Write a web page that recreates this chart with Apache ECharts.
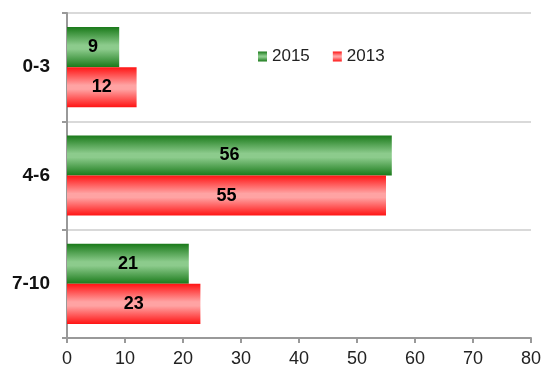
<!DOCTYPE html>
<html>
<head>
<meta charset="utf-8">
<script src="https://cdn.jsdelivr.net/npm/echarts@6/dist/echarts.min.js"></script>
<style>
  html, body { margin: 0; padding: 0; background: #fff; }
  #chart { width: 544px; height: 370px; }
</style>
</head>
<body>
<div id="chart"></div>
<script>
// Age groups and counts per year
const categories = ['0-3', '4-6', '7-10'];
const values2015 = [9, 56, 21];
const values2013 = [12, 55, 23];
const xTicks = { min: 0, max: 80, interval: 10 };

function bandGradient(edge, mid) {
  return new echarts.graphic.LinearGradient(0, 0, 0, 1, [
    { offset: 0, color: edge },
    { offset: 0.45, color: mid },
    { offset: 0.55, color: mid },
    { offset: 1, color: edge }
  ]);
}

const labelStyle = {
  show: true,
  position: 'inside',
  color: '#000',
  fontSize: 18,
  fontWeight: 'bold',
  fontFamily: 'Liberation Sans, Arial, sans-serif'
};

const chart = echarts.init(document.getElementById('chart'));
chart.setOption({
  animation: false,
  textStyle: { fontFamily: 'Liberation Sans, Arial, sans-serif' },
  grid: { left: 67, right: 11, top: 13, bottom: 32, containLabel: false },
  legend: {
    data: ['2015', '2013'],
    left: 253,
    top: 43,
    icon: 'rect',
    itemWidth: 9,
    itemHeight: 10,
    itemGap: 23,
    textStyle: { fontSize: 17, color: '#222' }
  },
  xAxis: {
    type: 'value',
    min: xTicks.min,
    max: xTicks.max,
    interval: xTicks.interval,
    axisLine: { show: true, lineStyle: { color: '#999', width: 2 } },
    axisTick: { show: true, length: 5, lineStyle: { color: '#999', width: 2 } },
    splitLine: { show: false },
    axisLabel: { color: '#222', fontSize: 18, margin: 12 }
  },
  yAxis: {
    type: 'category',
    data: categories,
    inverse: true,
    axisLine: { show: true, lineStyle: { color: '#999', width: 2 } },
    axisTick: { show: true, length: 5, lineStyle: { color: '#999', width: 2 } },
    splitLine: { show: true, lineStyle: { color: '#d9d9d9', width: 2 } },
    axisLabel: { color: '#111', fontSize: 19, fontWeight: 'bold', margin: 17 }
  },
  series: [
    {
      name: '2015',
      type: 'bar',
      data: values2015,
      barGap: '0%',
      barCategoryGap: '26%',
      itemStyle: { color: bandGradient('#1a7a1a', '#8ccb8c') },
      label: labelStyle
    },
    {
      name: '2013',
      type: 'bar',
      data: values2013,
      barGap: '0%',
      barCategoryGap: '26%',
      itemStyle: { color: bandGradient('#ff1414', '#ffa3a3') },
      label: labelStyle
    }
  ]
});
</script>
</body>
</html>
